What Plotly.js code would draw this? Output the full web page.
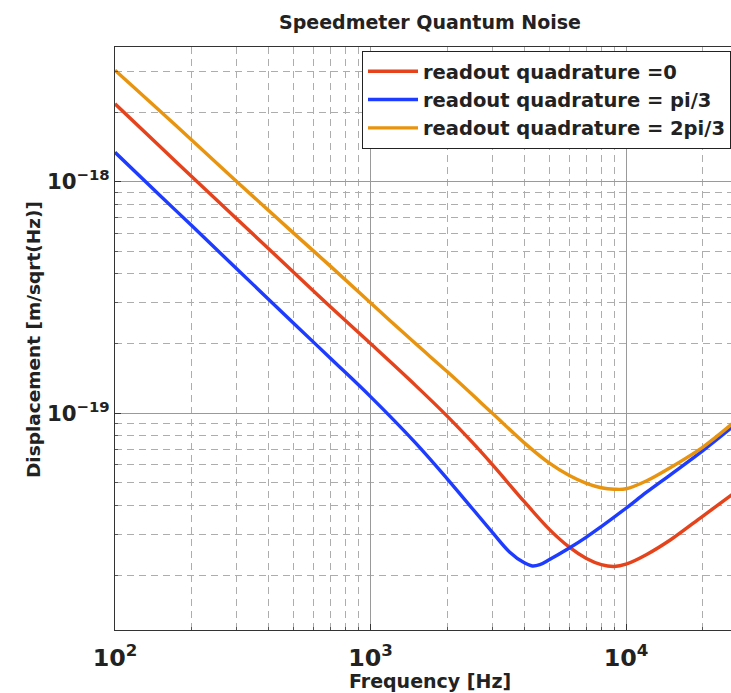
<!DOCTYPE html>
<html>
<head>
<meta charset="utf-8">
<script src="https://cdn.plot.ly/plotly-3.0.1.min.js"></script>
<style>
  html, body { margin: 0; padding: 0; overflow: hidden; background: #fff; }
  #chart { width: 745px; height: 693px; }
</style>
</head>
<body>
<div id="chart"></div>
<script>
// Frequency samples [Hz] and displacement noise [m/sqrt(Hz)]

// readout quadrature = 0
const freqQuad0 = [100, 150, 200, 300, 500, 700, 1000, 1500, 2000, 2500, 3000, 4000, 5000, 6000, 7000, 8000, 9000, 10000, 12000, 15000, 20000, 26000];
const quad0 = [2.17e-18, 1.42e-18, 1.05e-18, 6.9e-19, 4.07e-19, 2.87e-19, 2.0e-19, 1.32e-19, 9.7e-20, 7.5e-20, 6.0e-20, 4.15e-20, 3.16e-20, 2.64e-20, 2.36e-20, 2.22e-20, 2.18e-20, 2.23e-20, 2.45e-20, 2.85e-20, 3.6e-20, 4.45e-20];

// readout quadrature = pi/3
const freqQuadPi3 = [100, 150, 200, 300, 500, 700, 1000, 1500, 2000, 3000, 3500, 4000, 4300, 4600, 5000, 6000, 7000, 8000, 10000, 12000, 15000, 20000, 26000];
const quadPi3 = [1.34e-18, 8.73e-19, 6.45e-19, 4.2e-19, 2.45e-19, 1.72e-19, 1.18e-19, 7.45e-20, 5.2e-20, 3.06e-20, 2.52e-20, 2.26e-20, 2.19e-20, 2.22e-20, 2.33e-20, 2.62e-20, 2.92e-20, 3.24e-20, 3.89e-20, 4.55e-20, 5.45e-20, 6.9e-20, 8.7e-20];

// readout quadrature = 2pi/3
const freqQuad2Pi3 = [100, 150, 200, 300, 500, 700, 1000, 1500, 2000, 3000, 4000, 5000, 6000, 7000, 8000, 9000, 10000, 12000, 15000, 20000, 26000];
const quad2Pi3 = [3.03e-18, 2.02e-18, 1.51e-18, 1.0e-18, 6.0e-19, 4.3e-19, 3.0e-19, 2.0e-19, 1.51e-19, 1.0e-19, 7.45e-20, 6.1e-20, 5.38e-20, 4.98e-20, 4.77e-20, 4.70e-20, 4.72e-20, 5.1e-20, 5.85e-20, 7.15e-20, 9.0e-20];

const seriesNames = ['readout quadrature =0', 'readout quadrature = pi/3', 'readout quadrature = 2pi/3'];
const seriesColors = ['#e5431b', '#1e3cff', '#e8940f'];
const seriesFreqs = [freqQuad0, freqQuadPi3, freqQuad2Pi3];
const seriesValues = [quad0, quadPi3, quad2Pi3];

const titleText = 'Speedmeter Quantum Noise';
const xTitle = 'Frequency [Hz]';
const yTitle = 'Displacement [m/sqrt(Hz)]';

const FONT = 'DejaVu Sans, Liberation Sans, sans-serif';

const traces = seriesValues.map((vals, i) => ({
  type: 'scatter',
  mode: 'lines',
  x: seriesFreqs[i],
  y: vals,
  name: seriesNames[i],
  line: { color: seriesColors[i], width: 3.4, shape: 'spline', smoothing: 1 }
}));

const W = 745, H = 693;
const ml = 115, mt = 47, mb = 63, mr = 0;
const PW = W - ml - mr, PH = H - mt - mb;

const axisCommon = {
  type: 'log',
  dtick: 1,
  exponentformat: 'power',
  showexponent: 'all',
  showline: true,
  linecolor: '#333',
  linewidth: 1,
  mirror: true,
  ticks: 'inside',
  ticklen: 6,
  tickcolor: '#333',
  showgrid: true,
  gridcolor: '#9a9a9a',
  gridwidth: 1,
  zeroline: false,
  tickfont: { family: FONT, size: 19, color: '#222', weight: 'bold' },
  minor: {
    dtick: 'D1',
    ticks: 'inside',
    ticklen: 3,
    tickcolor: '#555',
    showgrid: true,
    gridcolor: '#adadad',
    gridwidth: 1,
    griddash: '7px,5px'
  }
};

const layout = {
  width: W,
  height: H,
  margin: { l: ml, r: mr, t: mt, b: mb, autoexpand: false },
  paper_bgcolor: '#fff',
  plot_bgcolor: '#fff',
  title: {
    text: titleText,
    font: { family: FONT, size: 19, color: '#222', weight: 'bold' },
    xref: 'paper', x: 0.5, xanchor: 'center',
    yref: 'container', y: 1 - 22 / H, yanchor: 'middle'
  },
  xaxis: Object.assign({}, axisCommon, {
    range: [2, 2 + PW / 255.5],
    ticklabelstandoff: 7
  }),
  yaxis: Object.assign({}, axisCommon, {
    range: [-19.936, -17.418],
    ticklabelstandoff: 1,
    tickfont: { family: FONT, size: 17, color: '#222', weight: 'bold' }
  }),
  showlegend: true,
  legend: {
    x: (362 - ml) / PW,
    xanchor: 'left',
    y: 1 - (51 - mt) / PH,
    yanchor: 'top',
    bgcolor: '#fff',
    bordercolor: '#222',
    borderwidth: 1,
    itemwidth: 50,
    font: { family: FONT, size: 19.5, color: '#222', weight: 'bold' }
  },
  annotations: [{
    text: xTitle,
    xref: 'paper', yref: 'paper',
    x: 0.5,
    y: -(681 - (H - mb)) / PH,
    xanchor: 'center', yanchor: 'middle',
    showarrow: false,
    font: { family: FONT, size: 19, color: '#222', weight: 'bold' }
  }, {
    text: yTitle,
    textangle: -90,
    xref: 'paper', yref: 'paper',
    x: (33 - ml) / PW,
    y: 1 - (340 - mt) / PH,
    xanchor: 'center', yanchor: 'middle',
    showarrow: false,
    font: { family: FONT, size: 18.5, color: '#222', weight: 'bold' }
  }]
};

Plotly.newPlot('chart', traces, layout, { displayModeBar: false, staticPlot: true });
</script>
</body>
</html>
